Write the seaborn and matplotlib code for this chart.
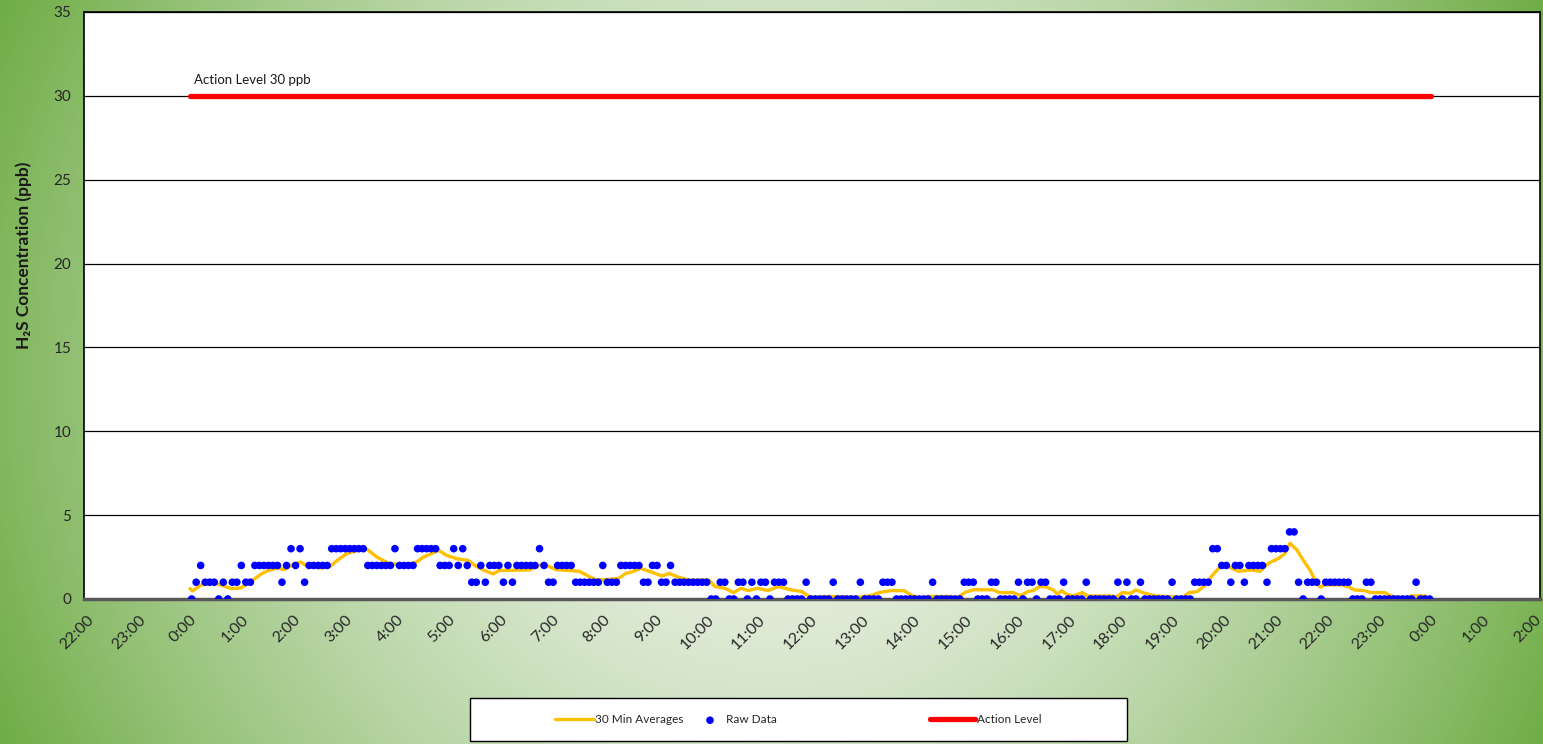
import numpy as np
import pandas as pd
import matplotlib
matplotlib.use('Agg')
import matplotlib.pyplot as plt
import matplotlib.dates as mdates
from matplotlib.patches import Rectangle
import seaborn as sns

sns.set_theme(style='white')
plt.rcParams['font.family'] = ['Lato', 'DejaVu Sans']

# --- data ---
day = '2024-01-02'
axis_start, axis_end = '2024-01-01 21:57', '2024-01-03 02:07'

# raw H2S readings (ppb), evenly logged through the day
raw_first, raw_last = '00:02', '23:59'
raw_ppb = [
    0, 1, 2, 1, 1, 1, 0, 1, 0, 1, 1, 2, 1, 1, 2, 2, 2, 2, 2, 2,
    1, 2, 3, 2, 3, 1, 2, 2, 2, 2, 2, 3, 3, 3, 3, 3, 3, 3, 3, 2,
    2, 2, 2, 2, 2, 3, 2,
    2, 2, 2, 3, 3, 3, 3, 3, 2, 2, 2, 3, 2, 3, 2, 1, 1, 2, 1, 2,
    2, 2, 1, 2, 1, 2, 2, 2, 2, 2, 3, 2, 1, 1, 2, 2, 2, 2, 1, 1,
    1, 1, 1, 1, 2, 1,
    1, 1, 2, 2, 2, 2, 2, 1, 1, 2, 2, 1, 1, 2, 1, 1, 1, 1, 1, 1,
    1, 1, 0, 0, 1, 1, 0, 0, 1, 1, 0, 1, 0, 1, 1, 0, 1, 1, 1, 0,
    0, 0, 0, 1, 0, 0,
    0, 0, 0, 1, 0, 0, 0, 0, 0, 1, 0, 0, 0, 0, 1, 1, 1, 0, 0, 0,
    0, 0, 0, 0, 0, 1, 0, 0, 0, 0, 0, 0, 1, 1, 1, 0, 0, 0, 1, 1,
    0, 0, 0, 0, 1, 0, 1,
    1, 0, 1, 1, 0, 0, 0, 1, 0, 0, 0, 0, 1, 0, 0, 0, 0, 0, 0, 1,
    0, 1, 0, 0, 1, 0, 0, 0, 0, 0, 0, 1, 0, 0, 0, 0, 1, 1, 1, 1,
    3, 3, 2, 2, 1, 2,
    2, 1, 2, 2, 2, 2, 1, 3, 3, 3, 3, 4, 4, 1, 0, 1, 1, 1, 0, 1,
    1, 1, 1, 1, 1, 0, 0, 0, 1, 1, 0, 0, 0, 0, 0, 0, 0, 0, 0, 1,
    0, 0, 0,
]

# 30 minute running averages (ppb)
avg_times = [
    '00:00', '00:03', '00:13', '00:29', '00:48', '00:59', '01:07', '01:23', '01:31', '01:42',
    '01:50', '02:01', '02:09', '02:16', '02:32', '02:43', '02:51', '03:02', '03:18', '03:26',
    '03:37', '03:49', '04:01', '04:08', '04:23', '04:31', '04:49', '04:58', '05:10', '05:23',
    '05:32', '05:44', '05:52', '05:59', '06:34', '06:50', '07:05', '07:32', '07:43', '07:51',
    '08:02', '08:18', '08:26', '08:34', '08:43', '08:56', '09:08', '09:16', '09:27', '09:39',
    '10:02', '10:10', '10:21', '10:31', '10:40', '10:48', '10:59', '11:11', '11:23', '11:38',
    '11:50', '11:59', '12:07', '12:20', '12:55', '13:10', '13:20', '13:33', '13:49', '13:58',
    '14:08', '14:17', '14:43', '14:50', '15:00', '15:10', '15:32', '15:40', '15:56', '16:04',
    '16:13', '16:19', '16:26', '16:34', '16:42', '16:47', '16:52', '16:57', '17:05', '17:16',
    '17:22', '17:51', '17:55', '18:02', '18:12', '18:18', '18:26', '18:41', '19:12', '19:20',
    '19:29', '19:39', '19:47', '19:56', '20:05', '20:17', '20:32', '20:42', '20:52', '21:04',
    '21:11', '21:17', '21:25', '21:32', '21:40', '21:46', '21:52', '21:57', '22:16', '22:24',
    '22:32', '22:43', '22:51', '23:07', '23:14', '23:29', '23:38', '23:54',
]
avg_ppb = [
    0.62, 0.48, 0.84, 0.95, 0.62, 0.66, 0.90, 1.50, 1.70, 1.85,
    1.75, 2.10, 2.20, 1.95, 1.85, 1.95, 2.30, 2.70, 2.95, 2.95,
    2.50, 2.17, 2.05, 2.00, 2.20, 2.50, 2.90, 2.60, 2.40, 2.30,
    1.95, 1.65, 1.50, 1.70, 1.73, 2.10, 1.75, 1.65, 1.35, 1.15,
    1.15, 1.23, 1.53, 1.63, 1.83, 1.60, 1.37, 1.53, 1.30, 1.13,
    1.13, 0.74, 0.64, 0.38, 0.64, 0.50, 0.64, 0.50, 0.74, 0.54,
    0.45, 0.14, 0.10, 0.15, 0.10, 0.20, 0.38, 0.50, 0.50, 0.20,
    0.05, 0.15, 0.15, 0.05, 0.40, 0.55, 0.55, 0.38, 0.38, 0.20,
    0.45, 0.50, 0.74, 0.72, 0.54, 0.30, 0.50, 0.30, 0.18, 0.38,
    0.18, 0.18, 0.10, 0.38, 0.34, 0.54, 0.38, 0.18, 0.10, 0.38,
    0.44, 0.84, 1.43, 1.93, 1.95, 1.65, 1.73, 1.65, 2.13, 2.43,
    2.72, 3.32, 2.92, 2.33, 1.73, 1.13, 0.70, 0.84, 0.84, 0.74,
    0.54, 0.50, 0.38, 0.38, 0.18, 0.04, 0.18, 0.18,
]

action_level = 30
action_times = ['2024-01-02 00:00', '2024-01-03 00:00']

raw_df = pd.DataFrame({
    'time': pd.date_range(f'{day} {raw_first}', f'{day} {raw_last}', periods=len(raw_ppb)),
    'ppb': raw_ppb,
})
avg_df = pd.DataFrame({'time': pd.to_datetime([f'{day} {t}' for t in avg_times]), 'ppb': avg_ppb})
act_df = pd.DataFrame({'time': pd.to_datetime(action_times), 'ppb': [action_level] * len(action_times)})

fig = plt.figure(figsize=(15.43, 7.44), dpi=100)

# green radial background
bg = fig.add_axes([0, 0, 1, 1], zorder=-10)
h, w = 744, 1543
yy, xx = np.mgrid[0:h, 0:w]
dist = np.hypot(xx - w / 2, yy - h / 2)
t = np.clip(dist / 850, 0, 1) ** 1.6
light = np.array([240, 244, 237]) / 255
dark = np.array([112, 173, 71]) / 255
bg.imshow(light + (dark - light) * t[..., None], aspect='auto', extent=[0, 1, 0, 1])
bg.axis('off')

ax = fig.add_axes([0.0544, 0.1949, 0.9436, 0.789])
ax.set_facecolor('white')

sns.lineplot(data=avg_df, x='time', y='ppb', color='#FFC000', lw=2.4, ax=ax,
             label='30 Min Averages', zorder=2)
sns.scatterplot(data=raw_df, x='time', y='ppb', color='#0000FF', s=30, edgecolor='none',
                ax=ax, label='Raw Data', zorder=3)
sns.lineplot(data=act_df, x='time', y='ppb', color='#FF0000', lw=3.8, ax=ax,
             solid_capstyle='round', label='Action Level', zorder=4)

ax.set_ylim(0, 35)
ax.set_yticks(range(0, 36, 5))
ax.set_xlim(pd.Timestamp(axis_start), pd.Timestamp(axis_end))
ax.xaxis.set_major_locator(mdates.HourLocator())
ax.xaxis.set_major_formatter(mdates.DateFormatter('%-H:%M'))
ax.grid(axis='y', color='black', lw=0.9)
ax.grid(axis='x', visible=False)
ax.set_axisbelow(True)
for side in ['left', 'top', 'right']:
    ax.spines[side].set_color('black')
    ax.spines[side].set_linewidth(1.2)
ax.spines['bottom'].set_color('#595959')
ax.spines['bottom'].set_linewidth(2.5)

ax.tick_params(axis='x', labelsize=11.5, length=0, pad=10, labelcolor='#262626')
for lbl in ax.get_xticklabels():
    lbl.set_rotation(45)
    lbl.set_ha('right')
    lbl.set_rotation_mode('anchor')
ax.tick_params(axis='y', labelsize=11, length=0, pad=9, labelcolor='#262626')
ax.set_xlabel('')
ax.set_ylabel('')

fig.text(0.0156, 0.657, 'H\u2082S Concentration (ppb)', rotation=90, fontweight='bold',
         fontsize=12.5, ha='center', va='center', color='#1a1a1a')
ax.text(pd.Timestamp(f'{day} 00:05'), action_level + 0.6, 'Action Level 30 ppb',
        fontsize=9.5, va='bottom', color='#1a1a1a')

# legend: white box with three entries placed like the original
handles, labels = ax.get_legend_handles_labels()
ax.get_legend().remove()
fig.patches.append(Rectangle((0.3046, 0.004), 0.4258, 0.0578, transform=fig.transFigure,
                             facecolor='white', edgecolor='black', lw=1, zorder=1))
entry_left = [555, 697, 930]
entry_handle = [3.3, 2.2, 3.8]
entry_pad = [0.05, 0.25, 0.2]
for hnd, lab, x0, hl, hp in zip(handles, labels, entry_left, entry_handle, entry_pad):
    fig.legend([hnd], [lab], loc='center left', bbox_to_anchor=(x0 / w, 0.0325),
               frameon=False, fontsize=8.5, handlelength=hl, handletextpad=hp,
               borderpad=0, borderaxespad=0)

fig.savefig('out.png', dpi=100)
